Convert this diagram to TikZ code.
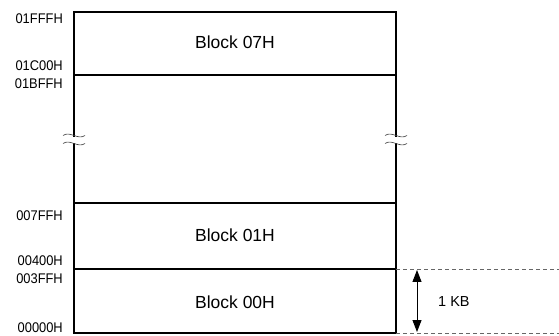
\documentclass[tikz,border=0pt]{standalone}
\usepackage{fontspec}
\setmainfont{Liberation Sans}
\newfontfamily\narrowfont[FakeStretch=0.92]{Liberation Sans}
\usetikzlibrary{arrows.meta}
\begin{document}
\begin{tikzpicture}[x=1pt,y=-1pt,
  boxline/.style={line width=1.7pt,line cap=rect},
  addr/.style={anchor=base east,inner sep=0pt,font=\narrowfont\fontsize{14}{14}\selectfont},
  blocklabel/.style={anchor=base,inner sep=0pt,font=\fontsize{17.5}{17.5}\selectfont},
  sizelabel/.style={anchor=base west,inner sep=0pt,font=\fontsize{14.5}{14.5}\selectfont},
  guide/.style={black!60,line width=0.8pt,dash pattern=on 4pt off 3pt},
  breakmark/.style={line width=0.6pt,black!75},
  dim/.style={line width=1pt,{Triangle[length=12pt,width=9pt]}-{Triangle[length=12pt,width=9pt]}}]
\useasboundingbox (0,0) rectangle (559,336);

% box corners and rows
\coordinate (tl) at (74,12);  \coordinate (tr) at (396,12);
\coordinate (l1) at (74,75);  \coordinate (r1) at (396,75);
\coordinate (l2) at (74,203); \coordinate (r2) at (396,203);
\coordinate (l3) at (74,269); \coordinate (r3) at (396,269);
\coordinate (bl) at (74,333); \coordinate (br) at (396,333);
\coordinate (lbu) at (74,136); \coordinate (lbd) at (74,144);
\coordinate (rbu) at (396,136); \coordinate (rbd) at (396,144);

% horizontal lines
\draw[boxline] (tl) -- (tr);
\draw[boxline] (l1) -- (r1);
\draw[boxline] (l2) -- (r2);
\draw[boxline] (l3) -- (r3);
\draw[boxline] (bl) -- (br);
% verticals with break
\draw[boxline] (tl) -- (lbu);
\draw[boxline] (lbd) -- (bl);
\draw[boxline] (tr) -- (rbu);
\draw[boxline] (rbd) -- (br);

% break marks
\foreach \x in {74,396}{
  \foreach \y in {135.5,143.5}{
    \draw[breakmark] (\x-11,\y) .. controls (\x-4,\y-5) and (\x+4,\y+5) .. (\x+11,\y);
  }
}

% dashed guides
\coordinate (g1) at (559,269);
\coordinate (g2) at (559,333);
\draw[guide] (r3) -- (g1);
\draw[guide] (br) -- (g2);

% dimension arrow
\coordinate (a1) at (417,270);
\coordinate (a2) at (417,332);
\draw[dim] (a1) -- (a2);
\node[sizelabel] (kb) at (438,306.7) {1 KB};

% block labels
\node[blocklabel] (b7) at (235,49) {Block 07H};
\node[blocklabel] (b1) at (235,242) {Block 01H};
\node[blocklabel] (b0) at (235,308.5) {Block 00H};

% address labels
\node[addr] (a01FFF) at (63,23.3) {01FFFH};
\node[addr] (a01C00) at (63,71) {01C00H};
\node[addr] (a01BFF) at (63,89) {01BFFH};
\node[addr] (a007FF) at (63,220.7) {007FFH};
\node[addr] (a00400) at (63,266) {00400H};
\node[addr] (a003FF) at (63,284) {003FFH};
\node[addr] (a00000) at (63,332.7) {00000H};
\end{tikzpicture}
\end{document}
